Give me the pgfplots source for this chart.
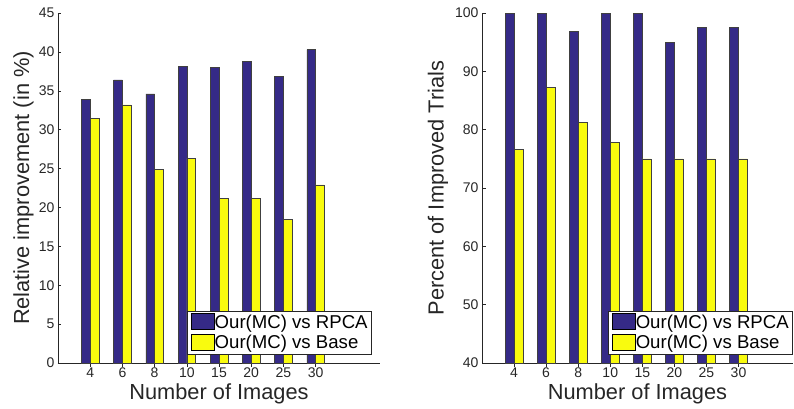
\documentclass[border=0pt]{standalone}
\usepackage{fontspec}
\setmainfont{Liberation Sans}
\usepackage{pgfplots}
\pgfplotsset{compat=1.18}
\definecolor{barblue}{RGB}{53,42,135}
\definecolor{baryellow}{RGB}{249,251,14}
\definecolor{axgray}{RGB}{38,38,38}

\pgfplotsset{
  mystyle/.style={
    scale only axis, height=350pt,
    axis x line=bottom, axis y line=left,
    axis line style={axgray, line width=0.6pt, -},
    tick align=inside, major tick length=3.5pt,
    tick style={axgray, line width=0.5pt},
    xmin=0, xtick={1,...,8}, xticklabels={4,6,8,10,15,20,25,30},
    ybar=0pt, bar width=8.8pt,
    /pgf/number format/assume math mode=true,
    tick label style={font=\fontsize{14}{16}\selectfont, text=axgray},
    xticklabel style={anchor=base, yshift=-11pt},
    label style={font=\fontsize{21.8}{24}\selectfont, text=axgray},
    xlabel style={at={(axis description cs:0.5,0)}, anchor=base, yshift=-36pt},
    legend cell align=left,
    legend style={draw=axgray, line width=0.6pt, fill=white,
      font=\fontsize{18.6}{20}\selectfont, inner xsep=3.5pt, inner ysep=1.5pt,
      row sep=1pt,
      nodes={inner sep=0.5pt, text height=13.5pt, text depth=4pt},
      /tikz/every even column/.append style={column sep=2.5pt}},
    xlabel={Number of Images},
  },
  myleg/.style={legend image code/.code={\draw[##1, draw=black, line width=0.6pt] (0pt,-6pt) rectangle (23pt,10pt);}},
  blueb/.style={fill=barblue, draw=black!75, line width=0.5pt, myleg},
  yellb/.style={fill=baryellow, draw=black!75, line width=0.5pt, myleg},
}

\begin{document}
\begin{tikzpicture}
\path[use as bounding box] (0,0) rectangle (794pt,408pt);

\begin{axis}[mystyle, at={(58pt,45pt)}, anchor=south west,
  width=322pt, xmax=10, ymin=0, ymax=45, ytick={0,5,...,45},
  ylabel={Relative improvement (in \%)},
  ylabel style={at={(axis description cs:-0.090,0.5)}, anchor=base},
  legend style={at={(0.975,0.023)}, anchor=south east}]
\addplot[blueb] coordinates {(1,33.85) (2,36.4) (3,34.6) (4,38.1) (5,38.05) (6,38.8) (7,36.9) (8,40.3)};
\addplot[yellb] coordinates {(1,31.5) (2,33.2) (3,24.9) (4,26.3) (5,21.2) (6,21.15) (7,18.45) (8,22.9)};
\legend{Our(MC) vs RPCA, Our(MC) vs Base}
\end{axis}

\begin{axis}[mystyle, at={(482pt,45pt)}, anchor=south west,
  width=311pt, xmax=9.7, ymin=40, ymax=100, ytick={40,50,...,100},
  ylabel={Percent of Improved Trials},
  ylabel style={at={(axis description cs:-0.1235,0.5)}, anchor=base},
  legend style={at={(1.0,0.023)}, anchor=south east}]
\addplot[blueb] coordinates {(1,100) (2,100) (3,96.85) (4,100) (5,100) (6,95.0) (7,97.5) (8,97.5)};
\addplot[yellb] coordinates {(1,76.65) (2,87.25) (3,81.3) (4,77.8) (5,75) (6,75) (7,75) (8,75)};
\legend{Our(MC) vs RPCA, Our(MC) vs Base}
\end{axis}
\end{tikzpicture}
\end{document}
